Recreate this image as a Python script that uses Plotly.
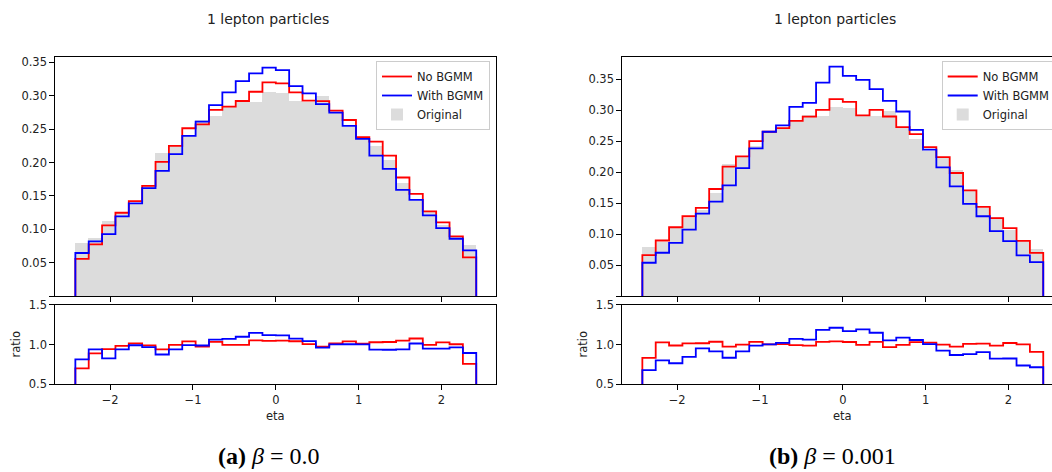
import numpy as np
import plotly.graph_objects as go

# ---------------- data ----------------
eta_min, eta_max, n_bins = -2.42, 2.42, 30
edges = np.linspace(eta_min, eta_max, n_bins + 1)

original = [0.0793, 0.0872, 0.1124, 0.1270, 0.1400, 0.1670, 0.2144, 0.2260, 0.2420, 0.2645,
            0.2698, 0.2850, 0.2935, 0.2910, 0.3060, 0.3040, 0.2930, 0.2910, 0.2997, 0.2740,
            0.2540, 0.2350, 0.2250, 0.2040, 0.1693, 0.1423, 0.1274, 0.1075, 0.0890, 0.0766]

no_bgmm_a = [0.0555, 0.0774, 0.1058, 0.1247, 0.1421, 0.1650, 0.2010, 0.2249, 0.2513, 0.2572,
             0.2787, 0.2837, 0.2921, 0.3060, 0.3200, 0.3185, 0.3050, 0.2926, 0.2920, 0.2777,
             0.2637, 0.2378, 0.2313, 0.2104, 0.1775, 0.1530, 0.1267, 0.1103, 0.0893, 0.0579]
with_bgmm_a = [0.0644, 0.0819, 0.0928, 0.1192, 0.1387, 0.1615, 0.1875, 0.2124, 0.2398, 0.2612,
               0.2861, 0.3050, 0.3220, 0.3335, 0.3420, 0.3385, 0.3145, 0.3036, 0.2876, 0.2747,
               0.2548, 0.2353, 0.2104, 0.1905, 0.1590, 0.1441, 0.1207, 0.1018, 0.0858, 0.0684]

no_bgmm_b = [0.0660, 0.0896, 0.1110, 0.1288, 0.1422, 0.1728, 0.2088, 0.2254, 0.2501, 0.2652,
             0.2711, 0.2829, 0.2895, 0.3006, 0.3178, 0.3135, 0.2915, 0.3006, 0.2898, 0.2727,
             0.2614, 0.2405, 0.2244, 0.1986, 0.1707, 0.1438, 0.1256, 0.1095, 0.0891, 0.0695]
with_bgmm_b = [0.0537, 0.0698, 0.0859, 0.1073, 0.1331, 0.1524, 0.1787, 0.2066, 0.2383, 0.2652,
               0.2754, 0.3054, 0.3118, 0.3446, 0.3704, 0.3553, 0.3489, 0.3339, 0.3151, 0.2979,
               0.2684, 0.2362, 0.2077, 0.1771, 0.1487, 0.1288, 0.1047, 0.0886, 0.0655, 0.0547]

panel_title = "1 lepton particles"
captions = ["<b>(a)</b> <i>β</i> = 0.0", "<b>(b)</b> <i>β</i> = 0.001"]
series_names = ["No BGMM", "With BGMM", "Original"]
x_ticks = [-2, -1, 0, 1, 2]
x_tick_text = ["\u22122", "\u22121", "0", "1", "2"]
main_y_ticks = [0, 0.05, 0.10, 0.15, 0.20, 0.25, 0.30, 0.35]
main_y_text = ["", "0.05", "0.10", "0.15", "0.20", "0.25", "0.30", "0.35"]
ratio_ticks = [0.5, 1.0, 1.5]
ratio_text = ["0.5", "1.0", "1.5"]

# ---------------- layout geometry ----------------
W, H = 1052, 472
RED, BLUE, GREY = "#ff0000", "#0000ff", "#dcdcdc"
FONT = "DejaVu Sans"
TXT = "#222222"


def px(x):
    return x / W


def py(y):
    return 1 - y / H


def step_xy(values):
    xs = np.concatenate([[edges[0]], edges])
    ys = np.concatenate([[0.0], np.asarray(values, float), [0.0]])
    return xs, ys


fig = go.Figure()
centers = 0.5 * (edges[:-1] + edges[1:])
width = edges[1] - edges[0]
orig = np.asarray(original, float)

panels = [
    dict(no=no_bgmm_a, wi=with_bgmm_a, xa="x", ya="y", xr="x2", yr="y2", legend="legend",
         xdom=[px(55.3), px(496.3)], xrange=[-2.662, 2.662], ymax=0.3585, mirror_y=True),
    dict(no=no_bgmm_b, wi=with_bgmm_b, xa="x3", ya="y3", xr="x4", yr="y4", legend="legend2",
         xdom=[px(622.3), 1.0], xrange=[-2.662, -2.662 + (W - 622.3) * 5.324 / 441.0], ymax=0.3864,
         mirror_y=False),
]

for p in panels:
    fig.add_trace(go.Bar(x=centers, y=orig, width=width, marker=dict(color=GREY, line=dict(width=0)),
                         name=series_names[2], xaxis=p["xa"], yaxis=p["ya"], legend=p["legend"],
                         legendrank=3, hoverinfo="skip"))
    for vals, col, nm, rank in [(p["no"], RED, series_names[0], 1), (p["wi"], BLUE, series_names[1], 2)]:
        xs, ys = step_xy(vals)
        fig.add_trace(go.Scatter(x=xs, y=ys, mode="lines", line=dict(color=col, width=1.8, shape="hv"),
                                 name=nm, xaxis=p["xa"], yaxis=p["ya"], legend=p["legend"],
                                 legendrank=rank))
    for vals, col in [(p["no"], RED), (p["wi"], BLUE)]:
        ratio = np.asarray(vals, float) / orig
        xs, ys = step_xy(ratio)
        fig.add_trace(go.Scatter(x=xs, y=ys, mode="lines", line=dict(color=col, width=1.8, shape="hv"),
                                 showlegend=False, xaxis=p["xr"], yaxis=p["yr"], cliponaxis=True))

main_dom = [py(296.0), py(56.7)]
ratio_dom = [py(384.3), py(304.7)]

axis_common = dict(showline=True, linecolor="black", linewidth=1, ticks="outside", ticklen=5,
                   tickwidth=1, tickcolor="black", showgrid=False, zeroline=False,
                   tickfont=dict(family=FONT, size=11.5, color=TXT))

layout_axes = {}
for i, p in enumerate(panels):
    n_main_x = "xaxis" if i == 0 else "xaxis3"
    n_main_y = "yaxis" if i == 0 else "yaxis3"
    n_rat_x = "xaxis2" if i == 0 else "xaxis4"
    n_rat_y = "yaxis2" if i == 0 else "yaxis4"
    layout_axes[n_main_x] = dict(axis_common, domain=p["xdom"], range=p["xrange"], anchor=p["ya"],
                                 tickvals=x_ticks, showticklabels=False, mirror=True)
    layout_axes[n_main_y] = dict(axis_common, domain=main_dom, range=[0, p["ymax"]], anchor=p["xa"],
                                 tickvals=main_y_ticks, ticktext=main_y_text, mirror=p["mirror_y"])
    layout_axes[n_rat_x] = dict(axis_common, domain=p["xdom"], range=p["xrange"], anchor=p["yr"],
                                tickvals=x_ticks, ticktext=x_tick_text, mirror=True)
    layout_axes[n_rat_y] = dict(axis_common, domain=ratio_dom, range=[0.5, 1.5], anchor=p["xr"],
                                tickvals=ratio_ticks, ticktext=ratio_text, mirror=p["mirror_y"])

legend_common = dict(bgcolor="rgba(255,255,255,0.8)", bordercolor="#cccccc", borderwidth=1,
                     font=dict(family=FONT, size=11.5, color=TXT), itemwidth=30,
                     yanchor="top", tracegroupgap=0)

annotations = []
for cx in [268, 835]:
    annotations.append(dict(text=panel_title, x=px(cx), y=py(19), xref="paper", yref="paper",
                            showarrow=False, xanchor="center", yanchor="middle",
                            font=dict(family=FONT, size=14, color=TXT)))
for cap, cx in zip(captions, [268, 832]):
    annotations.append(dict(text=cap, x=px(cx), y=py(456), xref="paper", yref="paper",
                            showarrow=False, xanchor="center", yanchor="middle",
                            font=dict(family="Liberation Serif", size=24, color="black")))
for cx in [275.8, 842.5]:
    annotations.append(dict(text="eta", x=px(cx), y=py(415.5), xref="paper", yref="paper",
                            showarrow=False, xanchor="center", yanchor="middle",
                            font=dict(family=FONT, size=11.5, color=TXT)))
for cx in [15, 582]:
    annotations.append(dict(text="ratio", x=px(cx), y=py(344.5), xref="paper", yref="paper",
                            showarrow=False, xanchor="center", yanchor="middle", textangle=-90,
                            font=dict(family=FONT, size=11.5, color=TXT)))

fig.update_layout(
    width=W, height=H,
    margin=dict(l=0, r=0, t=0, b=0, autoexpand=False),
    paper_bgcolor="white", plot_bgcolor="white",
    barmode="overlay", bargap=0,
    showlegend=True,
    legend=dict(legend_common, x=px(490), xanchor="right", y=py(61)),
    legend2=dict(legend_common, x=px(941.7), xanchor="left", y=py(61)),
    annotations=annotations,
    **layout_axes,
)

fig.write_html("out.html", config={"displayModeBar": False},
               post_script="document.body.style.margin='0px';document.body.style.padding='0px';"
                           "document.body.style.overflow='hidden';")
